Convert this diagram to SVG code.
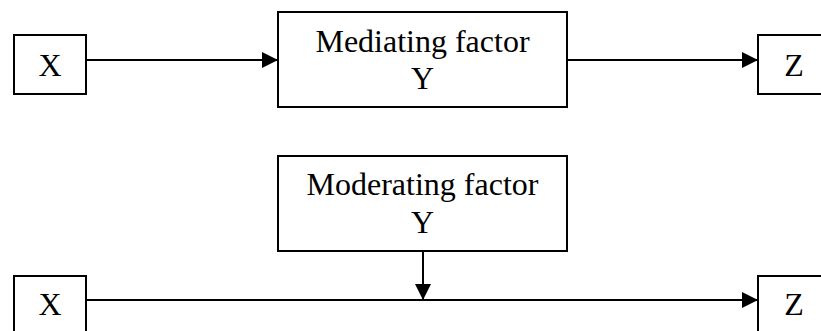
<svg xmlns="http://www.w3.org/2000/svg" width="821" height="331" viewBox="0 0 821 331">
<style>
.box{fill:#fff;stroke:#000;stroke-width:2}
.t{font-family:"Liberation Serif","Times New Roman",serif;font-size:32px;fill:#000;text-anchor:middle}
.c{stroke:#000;stroke-width:2;fill:none}
</style>
<defs>
<marker id="ah" markerUnits="userSpaceOnUse" markerWidth="16" markerHeight="16" refX="16" refY="8" orient="auto">
<path d="M0,0 L16,8 L0,16 Z" fill="#000"/>
</marker>
</defs>
<rect width="821" height="331" fill="#fff"/>
<g id="x1"><rect class="box" x="14" y="35" width="72" height="59"/><text class="t" x="50" y="76">X</text></g>
<g id="y1"><rect class="box" x="278" y="12" width="289" height="95"/><text class="t" x="422.5" y="52">Mediating factor</text><text class="t" x="422.5" y="89">Y</text></g>
<g id="z1"><rect class="box" x="758" y="35" width="72" height="59"/><text class="t" x="794" y="76">Z</text></g>
<g id="x2"><rect class="box" x="14" y="276" width="72" height="70"/><text class="t" x="50" y="315">X</text></g>
<g id="y2"><rect class="box" x="278" y="156" width="289" height="95"/><text class="t" x="422.5" y="195">Moderating factor</text><text class="t" x="422.5" y="233">Y</text></g>
<g id="z2"><rect class="box" x="758" y="276" width="72" height="70"/><text class="t" x="794" y="315">Z</text></g>
<g id="connectors">
<line class="c" x1="86" y1="60" x2="278" y2="60" marker-end="url(#ah)"/>
<line class="c" x1="567" y1="60" x2="758" y2="60" marker-end="url(#ah)"/>
<line class="c" x1="86" y1="300" x2="758" y2="300" marker-end="url(#ah)"/>
<line class="c" x1="423" y1="251" x2="423" y2="300" marker-end="url(#ah)"/>
</g>
</svg>
